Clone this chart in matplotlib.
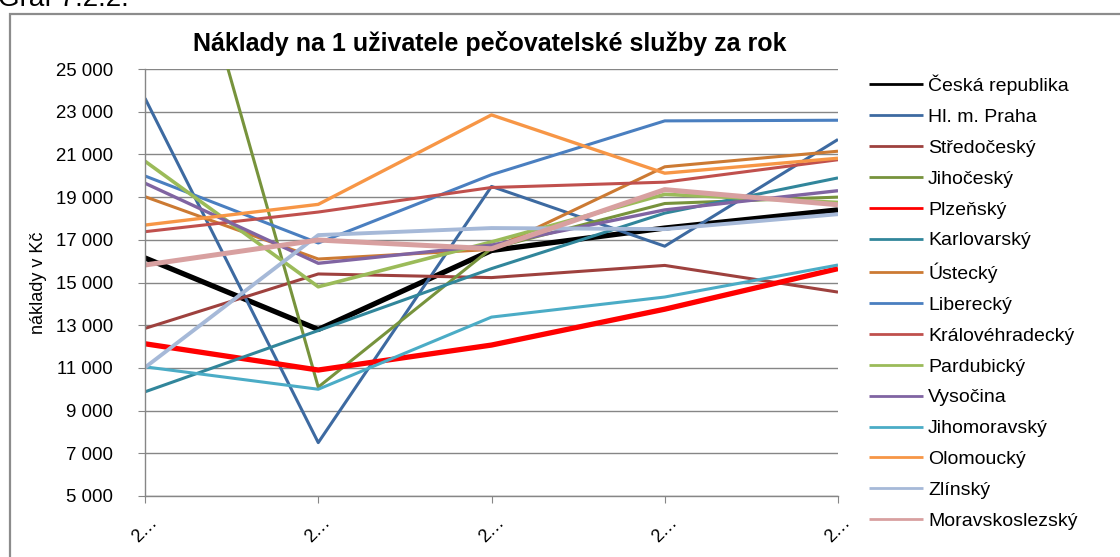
import matplotlib.pyplot as plt
from matplotlib.patches import Rectangle
from matplotlib.ticker import FuncFormatter

plt.rcParams["font.family"] = ["Liberation Sans", "DejaVu Sans"]

# Costs per user of the care service per year (CZK), five years per region
years = ["2…", "2…", "2…", "2…", "2…"]

ceska_republika = [16150, 12800, 16500, 17550, 18400]
praha = [23630, 7500, 19500, 16700, 21700]
stredocesky = [12850, 15400, 15230, 15800, 14550]
jihocesky = [38700, 10100, 16600, 18700, 19000]
plzensky = [12130, 10900, 12070, 13750, 15650]
karlovarsky = [9880, 12750, 15650, 18250, 19900]
ustecky = [19020, 16100, 16550, 20420, 21150]
liberecky = [19990, 16850, 20050, 22570, 22600]
kralovehradecky = [17380, 18300, 19450, 19700, 20750]
pardubicky = [20680, 14800, 16900, 19130, 18750]
vysocina = [19650, 15900, 16750, 18400, 19300]
jihomoravsky = [11050, 10000, 13380, 14320, 15820]
olomoucky = [17690, 18660, 22850, 20120, 20820]
zlinsky = [11020, 17220, 17550, 17500, 18200]
moravskoslezsky = [15820, 16990, 16580, 19350, 18640]

series = [
    ("Česká republika", ceska_republika, "#000000", 3.8),
    ("Hl. m. Praha", praha, "#3D6AA1", 2.2),
    ("Středočeský", stredocesky, "#9E413E", 2.2),
    ("Jihočeský", jihocesky, "#77933C", 2.2),
    ("Plzeňský", plzensky, "#FF0000", 3.8),
    ("Karlovarský", karlovarsky, "#31869B", 2.2),
    ("Ústecký", ustecky, "#CC7A33", 2.2),
    ("Liberecký", liberecky, "#4A7FC0", 2.2),
    ("Královéhradecký", kralovehradecky, "#C0504D", 2.2),
    ("Pardubický", pardubicky, "#9BBB59", 2.6),
    ("Vysočina", vysocina, "#8064A2", 2.4),
    ("Jihomoravský", jihomoravsky, "#4BACC6", 2.2),
    ("Olomoucký", olomoucky, "#F79646", 2.4),
    ("Zlínský", zlinsky, "#A6B9D8", 2.8),
    ("Moravskoslezský", moravskoslezsky, "#D8A0A0", 3.6),
]

W, H = 1120, 557
fig = plt.figure(figsize=(W / 100, H / 100), dpi=100)
ax = fig.add_axes([145 / W, 1 - 496 / H, (838 - 145) / W, (496 - 69) / H])

grid = "#868686"
x = list(range(len(years)))
for name, vals, color, lw in series:
    ax.plot(x, vals, color=color, lw=lw, label=name, solid_capstyle="butt")

ax.set_xlim(0, len(years) - 1)
ax.set_ylim(5000, 25000)
ax.set_yticks(range(5000, 25001, 2000))
ax.yaxis.set_major_formatter(FuncFormatter(lambda v, p: f"{int(v):,}".replace(",", " ")))
ax.set_xticks(x)
ax.set_xticklabels(years, rotation=45, ha="center", va="top")
ax.grid(axis="y", color=grid, lw=1.0)
ax.set_axisbelow(True)
for side in ("top", "right"):
    ax.spines[side].set_visible(False)
for side in ("left", "bottom"):
    ax.spines[side].set_color(grid)
    ax.spines[side].set_linewidth(1.0)
ax.tick_params(axis="y", length=5, color=grid, pad=18, labelsize=13.4)
ax.tick_params(axis="x", length=5, color=grid, pad=8, labelsize=13)

ax.set_ylabel("náklady v Kč", fontsize=13, labelpad=6)
fig.text(490 / W, 1 - 44 / H, "Náklady na 1 uživatele pečovatelské služby za rok",
         ha="center", va="center", fontsize=18, fontweight="bold")
fig.text(-2 / W, 1 - 6 / H, "Graf 7.2.2.", ha="left", va="baseline", fontsize=20)

leg = ax.legend(loc="upper left", bbox_to_anchor=(861 / W, 1 - 67 / H),
                bbox_transform=fig.transFigure, frameon=False, fontsize=14,
                handlelength=2.8, handletextpad=0.25, labelspacing=0.68,
                borderaxespad=0)
for h in leg.get_lines():
    h.set_linewidth(2.0)

fig.patches.append(Rectangle((10 / W, -0.05), 1.1, 1 - 14 / H + 0.05,
                             transform=fig.transFigure, fill=False,
                             edgecolor="#8C8C8C", lw=1.6))

fig.savefig("out.png", dpi=100)
